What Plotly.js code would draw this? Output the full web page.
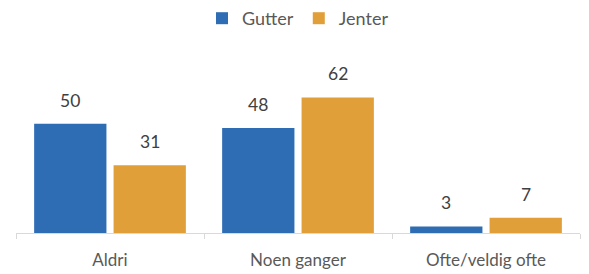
<!DOCTYPE html>
<html><head><meta charset="utf-8">
<script src="https://cdn.plot.ly/plotly-3.0.1.min.js"></script>
<style>html,body{margin:0;padding:0;background:#fff}</style>
</head><body><div id="chart" style="width:589px;height:274px"></div>
<script>
const categories = ["Aldri", "Noen ganger", "Ofte/veldig ofte"];
const gutter = [50, 48, 3];
const jenter = [31, 62, 7];
const seriesNames = ["Gutter", "Jenter"];
const colors = ["#2E6DB4", "#E19F39"];

const bargap = 0.155, bargroupgap = 0.09;
const slot = (1 - bargap) / 2;
const font = "Lato, 'Open Sans', sans-serif";

const traces = [gutter, jenter].map((vals, k) => ({
  type: "bar", name: seriesNames[k], x: categories, y: vals,
  marker: {color: colors[k]}, hoverinfo: "none"
}));

const annotations = [];
[gutter, jenter].forEach((vals, k) => {
  vals.forEach((v, i) => {
    annotations.push({
      x: i + (k === 0 ? -slot / 2 : slot / 2), y: v, xref: "x", yref: "y",
      text: String(v), showarrow: false, yanchor: "bottom", yshift: 11,
      font: {family: font, size: 17.5, color: "#404040"}
    });
  });
});

const layout = {
  width: 589, height: 274,
  margin: {l: 16, r: 9, t: 58, b: 41},
  paper_bgcolor: "#fff", plot_bgcolor: "#fff",
  barmode: "group", bargap: bargap, bargroupgap: bargroupgap,
  font: {family: font, size: 17, color: "#595959"},
  showlegend: true,
  legend: {orientation: "h", x: 0.5, xanchor: "center", yref: "container", y: 1.0, yanchor: "top",
           font: {family: font, size: 18, color: "#595959"}, itemwidth: 30, tracegroupgap: 0},
  xaxis: {type: "category", showline: true, linecolor: "#D9D9D9", linewidth: 1,
          ticks: "outside", tickson: "boundaries", ticklen: 5, tickcolor: "#D9D9D9",
          ticklabelstandoff: 12, showgrid: false, zeroline: false,
          tickfont: {family: font, size: 17, color: "#595959"}},
  yaxis: {range: [0, 80], visible: false, showgrid: false, zeroline: false},
  annotations: annotations
};
Plotly.newPlot("chart", traces, layout, {displayModeBar: false, staticPlot: true});
</script></body></html>
